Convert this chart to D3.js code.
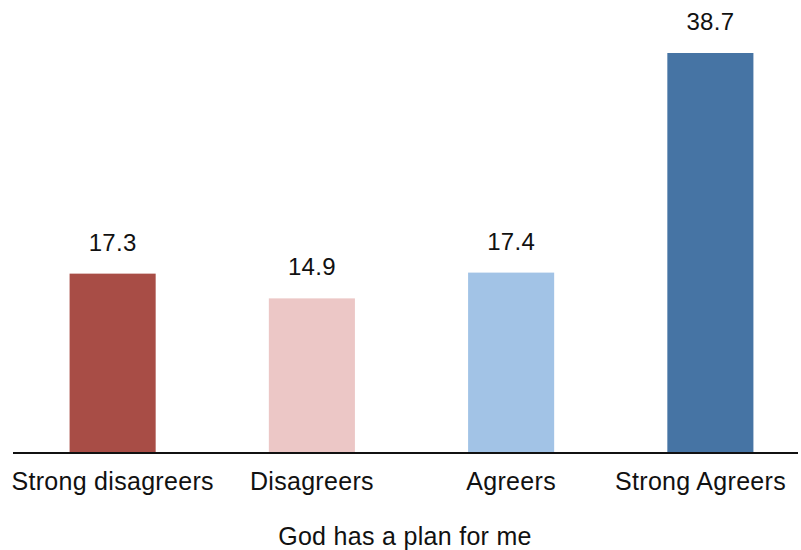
<!DOCTYPE html>
<html>
<head>
<meta charset="utf-8">
<script src="https://cdn.jsdelivr.net/npm/d3@7"></script>
<style>
  html, body { margin: 0; padding: 0; background: #fff; }
  svg { display: block; }
  text { font-family: "Liberation Sans", Arial, Helvetica, sans-serif; fill: #111; letter-spacing: 0.3px; }
</style>
</head>
<body>
<svg id="chart" width="801" height="550"></svg>
<script>
// Share of respondents by agreement with "God has a plan for me"
const categories = ["Strong disagreers", "Disagreers", "Agreers", "Strong Agreers"];
const values = [17.3, 14.9, 17.4, 38.7];
const barColors = ["#a84d46", "#ecc7c6", "#a2c3e6", "#4674a4"];
const axisTitle = "God has a plan for me";

const W = 801, H = 550;
const baseY = 452;
const svg = d3.select("#chart");

const x = d3.scaleBand()
  .domain(categories)
  .range([13, 810])
  .paddingInner(0.568)
  .paddingOuter(0.284);

const y = d3.scaleLinear()
  .domain([0, 38.7])
  .range([baseY, 53]);

const data = categories.map((c, i) => ({ c, v: values[i], color: barColors[i] }));

// bars
svg.append("g").selectAll("rect")
  .data(data)
  .join("rect")
  .attr("x", d => x(d.c))
  .attr("y", d => y(d.v))
  .attr("width", x.bandwidth())
  .attr("height", d => baseY - y(d.v))
  .attr("fill", d => d.color);

// value labels above bars
svg.append("g").selectAll("text")
  .data(data)
  .join("text")
  .attr("x", d => x(d.c) + x.bandwidth() / 2)
  .attr("y", d => y(d.v) - 23)
  .attr("text-anchor", "middle")
  .attr("font-size", 24)
  .text(d => d.v.toFixed(1));

// baseline
svg.append("line")
  .attr("x1", 13).attr("x2", 798)
  .attr("y1", baseY + 1).attr("y2", baseY + 1)
  .attr("stroke", "#111")
  .attr("stroke-width", 2);

// category labels, kept inside the right edge
const catLabels = svg.append("g").selectAll("text")
  .data(data)
  .join("text")
  .attr("x", d => x(d.c) + x.bandwidth() / 2)
  .attr("y", 490)
  .attr("text-anchor", "middle")
  .attr("font-size", 25)
  .text(d => d.c);

catLabels.each(function () {
  const bb = this.getBBox();
  const right = bb.x + bb.width;
  if (right > 786) {
    d3.select(this).attr("x", +d3.select(this).attr("x") - (right - 786));
  }
});

// axis title
svg.append("text")
  .attr("x", 405)
  .attr("y", 545)
  .attr("text-anchor", "middle")
  .attr("font-size", 25)
  .text(axisTitle);
</script>
</body>
</html>
